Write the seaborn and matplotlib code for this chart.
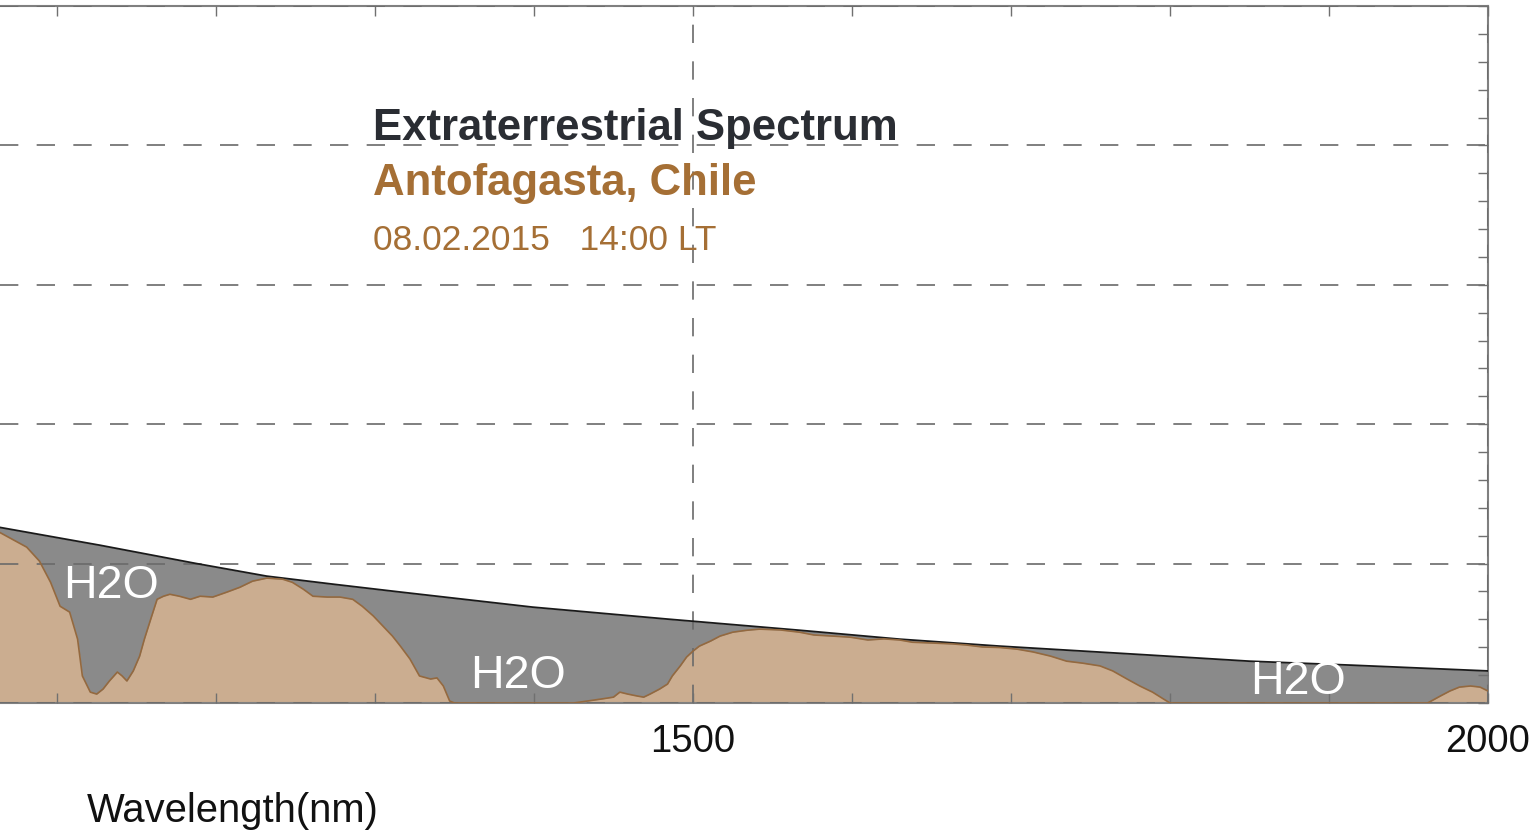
import matplotlib
matplotlib.use("Agg")
import matplotlib.pyplot as plt
import seaborn as sns
from matplotlib.ticker import MultipleLocator, FixedLocator

# ---------------- data ----------------
# Extraterrestrial spectrum (upper grey envelope)
et_nm = [1060, 1064, 1127, 1187, 1232, 1274, 1316, 1399, 1484, 1567,
         1630, 1693, 1787, 1850, 1913, 2000]
et_val = [0.637, 0.630, 0.566, 0.501, 0.455, 0.426, 0.398, 0.344, 0.301, 0.261,
          0.229, 0.204, 0.172, 0.150, 0.136, 0.115]

# Surface spectrum, Antofagasta (brown)
sf_nm = [1060, 1064, 1072, 1081, 1089, 1096, 1102, 1108, 1113, 1116, 1121, 1125,
         1129, 1133, 1138, 1141, 1144, 1148, 1152, 1155, 1159, 1163, 1167, 1171,
         1177, 1184, 1190, 1198, 1207, 1215, 1223, 1232, 1242, 1248, 1255, 1261,
         1270, 1278, 1286, 1292, 1299, 1305, 1311, 1316, 1322, 1328, 1335, 1339,
         1343, 1347, 1350, 1425, 1442, 1450, 1454, 1459, 1465, 1469, 1473, 1479,
         1484, 1487, 1492, 1496, 1500, 1504, 1511, 1517, 1525, 1534, 1542, 1555,
         1567, 1576, 1588, 1599, 1610, 1620, 1630, 1638, 1651, 1663, 1672, 1682,
         1693, 1704, 1714, 1725, 1735, 1745, 1756, 1764, 1773, 1781, 1789, 1796,
         1800, 1962, 1970, 1976, 1982, 1989, 1995, 2000]
sf_val = [0.618, 0.612, 0.587, 0.559, 0.509, 0.433, 0.347, 0.326, 0.229, 0.097, 0.039, 0.032,
          0.050, 0.079, 0.111, 0.097, 0.079, 0.115, 0.168, 0.229, 0.301, 0.372, 0.383, 0.390,
          0.383, 0.372, 0.383, 0.380, 0.398, 0.415, 0.437, 0.448, 0.444, 0.433, 0.408, 0.383,
          0.380, 0.380, 0.372, 0.347, 0.312, 0.276, 0.240, 0.204, 0.158, 0.097, 0.086, 0.090,
          0.061, 0.007, 0.0, 0.0, 0.014, 0.021, 0.039, 0.032, 0.025, 0.021, 0.032, 0.050,
          0.068, 0.097, 0.133, 0.165, 0.186, 0.204, 0.222, 0.240, 0.254, 0.261, 0.265, 0.262,
          0.254, 0.244, 0.240, 0.236, 0.226, 0.230, 0.226, 0.218, 0.215, 0.212, 0.208, 0.201,
          0.199, 0.193, 0.183, 0.168, 0.150, 0.143, 0.133, 0.115, 0.086, 0.061, 0.039, 0.014,
          0.0, 0.0, 0.025, 0.043, 0.057, 0.061, 0.057, 0.043]

x_major = [1500, 2000]
title_lines = ["Extraterrestrial Spectrum", "Antofagasta, Chile", "08.02.2015   14:00 LT"]
h2o_labels = ["H2O", "H2O", "H2O"]
h2o_x = [1134.0, 1390, 1880.6]
h2o_y = [0.380, 0.057, 0.036]

# ---------------- style ----------------
sns.set_theme(style="white")
plt.rcParams["font.family"] = ["Liberation Sans", "DejaVu Sans"]

fig = plt.figure(figsize=(15.38, 8.37), dpi=100)
ax = fig.add_axes([0.0, 0.1589, 0.9675, 0.8327])

GREY = "#8a8a8a"
TAN = "#cbad90"
BROWN_TXT = "#a56f35"

ax.fill_between(et_nm, 0, et_val, color=GREY, lw=0, zorder=1)
ax.fill_between(sf_nm, 0, sf_val, color=TAN, lw=0, zorder=2)
sns.lineplot(x=et_nm, y=et_val, color="#1a1a1a", lw=1.3, ax=ax, zorder=3)
sns.lineplot(x=sf_nm, y=sf_val, color="#94693f", lw=1.2, ax=ax, zorder=3)

ax.set_xlim(1064.2, 2000)
ax.set_ylim(0, 2.5)
ax.xaxis.set_major_locator(FixedLocator(x_major))
ax.xaxis.set_minor_locator(MultipleLocator(100))
ax.yaxis.set_major_locator(MultipleLocator(0.5))
ax.yaxis.set_minor_locator(MultipleLocator(0.1))

ax.tick_params(axis="x", which="both", direction="in", top=True, bottom=True,
               length=7, width=1, color="#707070", labelsize=27.5, pad=14.5,
               labelcolor="#111111")
ax.tick_params(axis="y", which="both", direction="in", left=False, right=True,
               labelleft=False, labelright=False, length=7, width=1, color="#707070")

ax.set_axisbelow(False)
ax.grid(True, which="major", axis="both", color="#6a6a6a",
        linestyle=(0, (11, 11)), linewidth=1.2)

ax.spines["left"].set_visible(False)
for s in ["top", "right", "bottom"]:
    ax.spines[s].set_color("#808080")
    ax.spines[s].set_linewidth(1.5)

ax.set_xlabel("Wavelength(nm)", fontsize=28.8, color="#111111")
ax.xaxis.set_label_coords(233 / 1488, -107 / 697)
ax.xaxis.label.set_va("center")
ax.set_ylabel("")

for lab, hx, hy in zip(h2o_labels, h2o_x, h2o_y):
    ax.text(hx, hy, lab, color="white", fontsize=33.5, ha="center", va="baseline", zorder=5)

fig.text(0.2425, 0.8327, title_lines[0], fontsize=31.5, fontweight="bold",
         color="#2a2d33", va="baseline", ha="left")
fig.text(0.2425, 0.767, title_lines[1], fontsize=31.5, fontweight="bold",
         color=BROWN_TXT, va="baseline", ha="left")
fig.text(0.2425, 0.7013, title_lines[2], fontsize=25.5,
         color=BROWN_TXT, va="baseline", ha="left")

fig.savefig("out.png", dpi=100)
